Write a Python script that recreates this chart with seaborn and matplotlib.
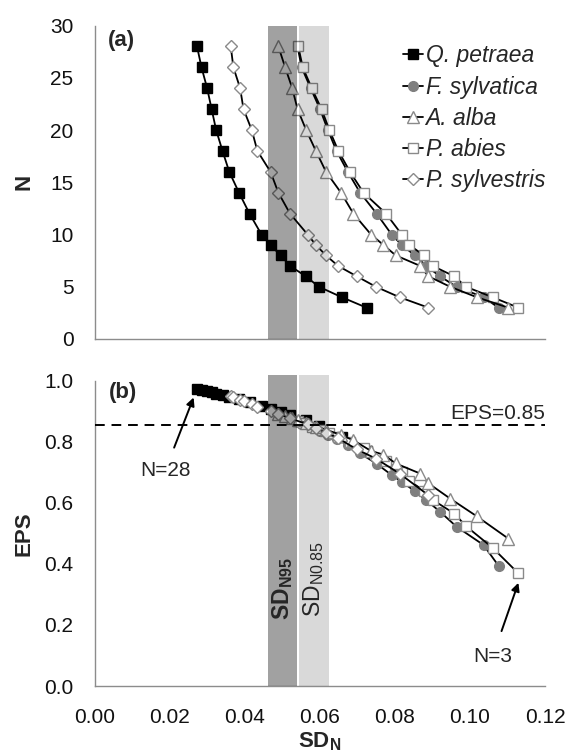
import numpy as np
import pandas as pd
import matplotlib
matplotlib.use("Agg")
import matplotlib.pyplot as plt
import seaborn as sns

sns.set_style("white")
plt.rcParams['font.family'] = ['Liberation Sans', 'DejaVu Sans']
plt.rcParams['mathtext.fontset'] = 'custom'
plt.rcParams['mathtext.rm'] = 'Liberation Sans'
plt.rcParams['mathtext.it'] = 'Liberation Sans:italic'
plt.rcParams['mathtext.bf'] = 'Liberation Sans:bold'

# ---------------- data ----------------
species = ["Q. petraea", "F. sylvatica", "A. alba", "P. abies", "P. sylvestris"]
n_values = [28, 26, 24, 22, 20, 18, 16, 14, 12, 10, 9, 8, 7, 6, 5, 4, 3]

sd_qpetraea = [0.0272, 0.0284, 0.0299, 0.0311, 0.0323, 0.0340, 0.0358, 0.0384, 0.0412,
               0.0444, 0.0468, 0.0495, 0.0520, 0.0562, 0.0597, 0.0658, 0.0724]
eps_qpetraea = [0.973, 0.970, 0.966, 0.962, 0.958, 0.953, 0.947, 0.940, 0.930,
                0.917, 0.908, 0.898, 0.887, 0.870, 0.853, 0.815, 0.770]

sd_fsylvatica = [0.0540, 0.0551, 0.0575, 0.0600, 0.0621, 0.0644, 0.0674, 0.0707, 0.0751,
                 0.0791, 0.0818, 0.0853, 0.0883, 0.0920, 0.0964, 0.1036, 0.1076]
eps_fsylvatica = [0.866, 0.859, 0.847, 0.834, 0.823, 0.809, 0.790, 0.762, 0.728,
                  0.691, 0.669, 0.638, 0.609, 0.571, 0.522, 0.462, 0.394]

sd_aalba = [0.0489, 0.0507, 0.0526, 0.0540, 0.0563, 0.0589, 0.0616, 0.0656, 0.0689,
            0.0736, 0.0769, 0.0802, 0.0867, 0.0889, 0.0947, 0.1018, 0.1102]
eps_aalba = [0.892, 0.885, 0.877, 0.870, 0.861, 0.850, 0.840, 0.822, 0.805,
             0.770, 0.758, 0.729, 0.696, 0.664, 0.614, 0.556, 0.483]

sd_pabies = [0.0542, 0.0554, 0.0578, 0.0604, 0.0625, 0.0649, 0.0680, 0.0716, 0.0776,
             0.0818, 0.0838, 0.0877, 0.0900, 0.0958, 0.0989, 0.1060, 0.1129]
eps_pabies = [0.868, 0.862, 0.850, 0.838, 0.828, 0.815, 0.798, 0.778, 0.738,
              0.700, 0.672, 0.640, 0.610, 0.565, 0.524, 0.453, 0.369]

sd_psylvestris = [0.0362, 0.0369, 0.0387, 0.0396, 0.0418, 0.0433, 0.0468, 0.0489, 0.0520,
                  0.0567, 0.0589, 0.0616, 0.0648, 0.0698, 0.0749, 0.0812, 0.0889]
eps_psylvestris = [0.950, 0.946, 0.938, 0.933, 0.923, 0.915, 0.900, 0.891, 0.877,
                   0.857, 0.845, 0.830, 0.812, 0.775, 0.745, 0.696, 0.625]

sd_n95_band = [0.0460, 0.0538]
sd_n085_band = [0.0545, 0.0623]
eps_threshold = 0.855

x_ticks = [0.00, 0.02, 0.04, 0.06, 0.08, 0.10, 0.12]
n_ticks = [0, 5, 10, 15, 20, 25, 30]
eps_ticks = [0.0, 0.2, 0.4, 0.6, 0.8, 1.0]

sd_lists = [sd_qpetraea, sd_fsylvatica, sd_aalba, sd_pabies, sd_psylvestris]
eps_lists = [eps_qpetraea, eps_fsylvatica, eps_aalba, eps_pabies, eps_psylvestris]

rows = []
for sp, sds, epss in zip(species, sd_lists, eps_lists):
    for n, sd, e in zip(n_values, sds, epss):
        rows.append({"species": sp, "N": n, "SD": sd, "EPS": e})
df = pd.DataFrame(rows)

# ---------------- styles ----------------
GRAY = "#7f7f7f"
EDGE = "#8a8a8a"
styles = {
    "Q. petraea": dict(marker="s", markersize=6.5, markerfacecolor="black", markeredgecolor="black"),
    "F. sylvatica": dict(marker="o", markersize=7, markerfacecolor=GRAY, markeredgecolor=GRAY),
    "A. alba": dict(marker="^", markersize=8.5, markerfacecolor="white", markeredgecolor=EDGE),
    "P. abies": dict(marker="s", markersize=7.5, markerfacecolor="white", markeredgecolor=EDGE),
    "P. sylvestris": dict(marker="D", markersize=6.5, markerfacecolor="white", markeredgecolor=EDGE),
}
order = ["Q. petraea", "F. sylvatica", "P. abies", "A. alba", "P. sylvestris"]

W, H = 569, 755
fig = plt.figure(figsize=(W / 100, H / 100), dpi=100)
ax1 = fig.add_axes([95 / W, 1 - 339 / H, 450 / W, 313.5 / H])
ax2 = fig.add_axes([95 / W, 1 - 686 / H, 450 / W, (686 - 374.6) / H])

SPINE = "#8c8c8c"
FS = 15

for ax, ycol in [(ax1, "N"), (ax2, "EPS")]:
    for sp in order:
        sub = df[df["species"] == sp]
        sns.lineplot(data=sub, x="SD", y=ycol, ax=ax, sort=False, estimator=None,
                     color="black", linewidth=1.3, markeredgewidth=1.0,
                     label=sp, legend=False, zorder=2, **styles[sp])
    for sp_ in ["top", "right"]:
        ax.spines[sp_].set_visible(False)
    for sp_ in ["left", "bottom"]:
        ax.spines[sp_].set_color(SPINE)
        ax.spines[sp_].set_linewidth(1.0)
    ax.set_xlim(0, 0.12)
    ax.set_xticks(x_ticks)
    ax.tick_params(axis="both", direction="out", length=5.5, width=1.0, color=SPINE,
                   labelsize=FS, labelcolor="#111111", pad=10)
    ax.set_xlabel("")
    ax.set_ylabel("")

# bands (drawn over the data as translucent overlays)
for ax, top in [(ax1, 30), (ax2, 1.02)]:
    ax.fill_betweenx([0, top], sd_n95_band[0], sd_n95_band[1], color="black",
                     alpha=0.37, linewidth=0, zorder=3)
    ax.fill_betweenx([0, top], sd_n085_band[0], sd_n085_band[1], color="black",
                     alpha=0.15, linewidth=0, zorder=3)

# top panel
ax1.set_ylim(0, 30)
ax1.set_yticks(n_ticks)
ax1.set_xticklabels([])
ax1.text(0.0035, 28.6, "(a)", fontsize=16, fontweight="bold", ha="left", va="center")
ax1.text(-0.019, 15, "N", fontsize=16, fontweight="bold", rotation=90,
         ha="center", va="center", clip_on=False)

handles, labels = ax1.get_legend_handles_labels()
hmap = dict(zip(labels, handles))
leg = ax1.legend([hmap[s] for s in species], species, loc="upper right",
                 bbox_to_anchor=(1.0, 0.94), frameon=False, handlelength=0.9,
                 handletextpad=0.1, labelspacing=0.36, borderaxespad=0.0,
                 borderpad=0.0, prop={"style": "italic", "size": 16.5})

# bottom panel
ax2.set_ylim(0, 1.02)
ax2.set_yticks(eps_ticks)
ax2.set_yticklabels([f"{v:.1f}" for v in eps_ticks])
ax2.set_xticklabels([f"{v:.2f}" for v in x_ticks])
ax2.spines["left"].set_bounds(0, 1.0)
ax2.axhline(eps_threshold, color="black", linestyle=(0, (5, 3.5)), linewidth=1.4, zorder=4)
ax2.text(0.1075, eps_threshold + 0.005, "EPS=0.85", fontsize=FS, ha="center", va="bottom")
ax2.text(0.0037, 0.962, "(b)", fontsize=16, fontweight="bold", ha="left", va="center")
ax2.text(-0.019, 0.5, "EPS", fontsize=16, fontweight="bold", rotation=90,
         ha="center", va="center", clip_on=False)
ax2.set_xlabel(r"$\mathbf{SD_N}$", fontsize=16, labelpad=3)

ax2.text(sum(sd_n95_band) / 2, 0.32, r"$\mathbf{SD_{N95}}$", fontsize=16.5, rotation=90,
         ha="center", va="center", zorder=5)
ax2.text(sum(sd_n085_band) / 2, 0.35, r"$\mathrm{SD_{N0.85}}$", fontsize=16.5, rotation=90,
         ha="center", va="center", zorder=5)

ax2.annotate("N=28", xy=(0.0263, 0.945), xytext=(0.0187, 0.705),
             fontsize=FS, ha="center", va="center",
             arrowprops=dict(arrowstyle="-|>", color="black", lw=1.4,
                             shrinkA=8, shrinkB=0, mutation_scale=12))
ax2.annotate("N=3", xy=(0.1129, 0.338), xytext=(0.1060, 0.095),
             fontsize=FS, ha="center", va="center",
             arrowprops=dict(arrowstyle="-|>", color="black", lw=1.4,
                             shrinkA=10, shrinkB=0, mutation_scale=12))

fig.savefig("out.png", dpi=100)
